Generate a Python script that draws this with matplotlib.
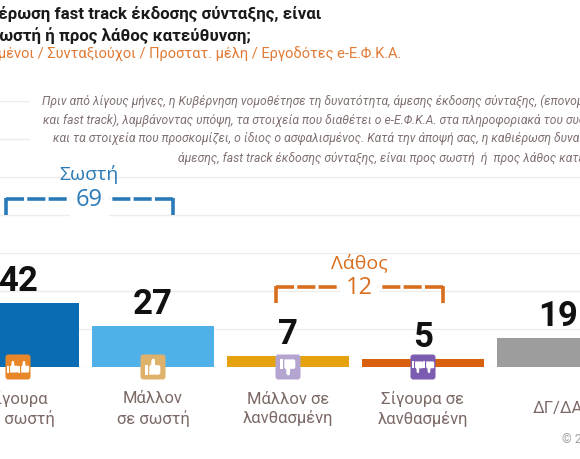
import matplotlib
matplotlib.use("Agg")
import matplotlib.pyplot as plt
from matplotlib.offsetbox import DrawingArea, AnnotationBbox
from matplotlib.patches import FancyBboxPatch, Polygon, Rectangle

# data
categories = ["Σίγουρα\nσε σωστή", "Μάλλον\nσε σωστή", "Μάλλον σε\nλανθασμένη",
              "Σίγουρα σε\nλανθασμένη", "ΔΓ/ΔΑ"]
values = [42, 27, 7, 5, 19]
bar_colors = ["#0a6db3", "#4fb1e8", "#e6a10e", "#d9600f", "#9d9d9d"]
icon_colors = ["#e8862a", "#dfb26c", "#b4a5d0", "#7b5cb0", None]
icon_thumbs = [2, 1, 1, 2, 0]
icon_down = [False, False, True, True, False]

groups = [("Σωστή", 69, 0, 1, "#2a7ab8"), ("Λάθος", 12, 2, 3, "#d96d1e")]

title_lines = ["Η καθιέρωση fast track έκδοσης σύνταξης, είναι",
               "προς σωστή ή προς λάθος κατεύθυνση;"]
subtitle = "Ασφαλισμένοι / Συνταξιούχοι / Προστατ. μέλη / Εργοδότες e-Ε.Φ.Κ.Α."
question = [
    "Πριν από λίγους μήνες, η Κυβέρνηση νομοθέτησε τη δυνατότητα, άμεσης έκδοσης σύνταξης, (επονομαζόμενη",
    "και fast track), λαμβάνοντας υπόψη, τα στοιχεία που διαθέτει ο e-Ε.Φ.Κ.Α. στα πληροφοριακά του συστήματα",
    "και τα στοιχεία που προσκομίζει, ο ίδιος ο ασφαλισμένος. Κατά την άποψή σας, η καθιέρωση δυνατότητας",
    "άμεσης, fast track έκδοσης σύνταξης, είναι προς σωστή  ή  προς λάθος κατεύθυνση;",
]
question_x = [42, 43, 53, 178]

W, H = 580, 460

fig = plt.figure(figsize=(5.8, 4.6), dpi=100)
ax = fig.add_axes([0, 0.2, 1, 175 * 1.52 / H])
ax.set_xlim(-18 / 135, 562 / 135)
ax.set_ylim(0, 175)

x = range(len(values))
ax.bar(x, values, width=0.9, color=bar_colors, zorder=2)
ax.set_yticks(range(0, 176, 25))
ax.grid(axis="y", color="#ececec", lw=1)
ax.set_axisbelow(True)
ax.tick_params(length=0, labelleft=False, labelbottom=False)
for s in ax.spines.values():
    s.set_visible(False)

for i, v in enumerate(values):
    ax.annotate(str(v), (i, v), xytext=(0, 9.4), textcoords="offset points",
                ha="center", va="baseline", fontsize=25, fontweight="bold",
                family="Roboto", color="#111111")
    ax.annotate(categories[i], (i, 0), xytext=(0, -29.5), textcoords="offset points",
                ha="center", va="center", fontsize=12, family="Roboto",
                color="#7b6a66", linespacing=1.25)


def thumb(da, cx, cy, h, down):
    sgn = -1 if down else 1
    def P(u, v):
        return (cx + u * h, cy + sgn * v * h)
    da.add_artist(Polygon([P(-0.5, -0.5), P(-0.32, -0.5), P(-0.32, 0.1), P(-0.5, 0.1)],
                          fc="white", ec="none"))
    da.add_artist(Polygon([P(-0.24, -0.5), P(0.4, -0.5), P(0.48, -0.4), P(0.48, 0.05),
                           P(0.4, 0.12), P(0.14, 0.12), P(0.12, 0.5), P(-0.0, 0.56),
                           P(-0.1, 0.45), P(-0.12, 0.16), P(-0.24, 0.05)],
                          fc="white", ec="none"))


for i in x:
    if icon_colors[i] is None:
        continue
    s = 19
    da = DrawingArea(s, s, 0, 0)
    da.add_artist(FancyBboxPatch((0.5, 0.5), s - 1, s - 1,
                                 boxstyle="round,pad=0,rounding_size=2",
                                 fc=icon_colors[i], ec="none"))
    if icon_thumbs[i] == 1:
        thumb(da, s / 2, s / 2, 11, icon_down[i])
    else:
        thumb(da, s / 2 - 3.8, s / 2, 8, icon_down[i])
        thumb(da, s / 2 + 4.2, s / 2, 8, icon_down[i])
    ab = AnnotationBbox(da, (i, 0), frameon=False, pad=0, box_alignment=(0.5, 0.5),
                        zorder=4)
    ax.add_artist(ab)

# brackets
bracket_y = {"Σωστή": 110.5, "Λάθος": 52.6}
for name, total, i0, i1, col in groups:
    y = bracket_y[name]
    mid = (i0 + i1) / 2 + 0.03
    x0, x1 = mid - 0.62, mid + 0.62
    for a in (x0, x1):
        ax.plot([a, mid], [y, y], ls=(0, (5, 0.9)), lw=2.6, color=col,
                solid_capstyle="butt", dash_capstyle="butt", zorder=3)
        ax.plot([a, a], [y + 0.85, y - 10.5], lw=2.6, color=col, solid_capstyle="butt",
                zorder=3)
    ax.text(mid, y, str(total), ha="center", va="center", fontsize=17, color=col,
            family="Open Sans", zorder=4,
            bbox=dict(fc="white", ec="none", pad=4.5))
    ax.text(mid, y + 16.5, name, ha="center", va="center", fontsize=14, color=col,
            family="Open Sans", zorder=4)

# question text block
fig.patches.append(Rectangle((30 / W, 1 - 166 / H), 1, 76 / H, transform=fig.transFigure,
                             fc="white", ec="none"))
for k, line in enumerate(question):
    fig.text(question_x[k] / W, 1 - (101 + 19 * k) / H, line, ha="left", va="center",
             fontsize=8.7, style="italic", family="Roboto", color="#807070")

for k, line in enumerate(title_lines):
    fig.text(-53 / W, 1 - (19 + 22 * k) / H, line, ha="left", va="baseline",
             fontsize=12.2, fontweight="bold", family="Roboto", color="#1a1a1a")
fig.text(-60 / W, 1 - 59 / H, subtitle, ha="left", va="baseline", fontsize=10.5,
         family="Roboto", color="#e07a35")
fig.text(562 / W, 1 - 440 / H, "© 2023", ha="left", va="center", fontsize=9,
         family="Roboto", color="#a0a0a0")

fig.savefig("out.png", dpi=100)
